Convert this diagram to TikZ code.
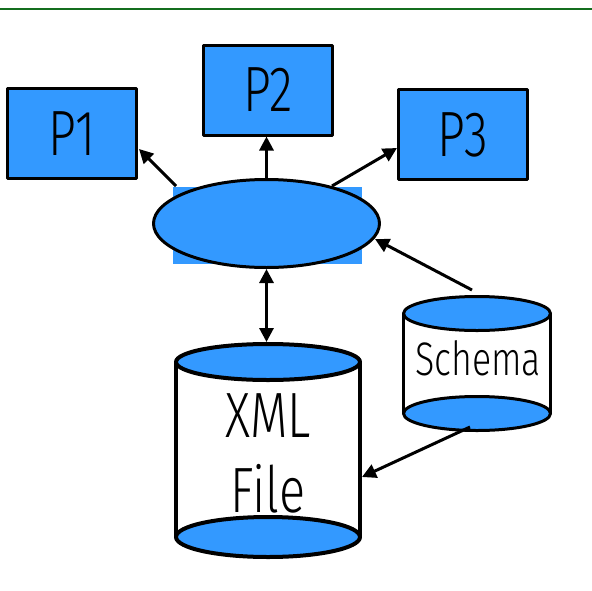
\documentclass[tikz,border=0pt]{standalone}
\usepackage{fontspec}
\setmainfont{Fira Sans Light}[FakeStretch=0.76]
\usetikzlibrary{arrows.meta,shapes.geometric}
\definecolor{boxblue}{RGB}{51,153,255}
\definecolor{rulegreen}{RGB}{20,110,30}
\begin{document}
\begin{tikzpicture}[x=1pt,y=-1pt,line join=round]
\tikzset{
  procbox/.style={draw=black,fill=boxblue,line width=3pt,minimum width=129pt,minimum height=90pt,inner sep=0pt,font=\fontsize{64}{64}\selectfont},
  hubshape/.style={ellipse,draw=black,fill=boxblue,line width=3pt,minimum width=226pt,minimum height=88pt,inner sep=0pt},
  link/.style={line width=3pt,-{Triangle[length=14pt,width=14pt]}},
  dlink/.style={line width=3pt,{Triangle[length=14pt,width=14pt]}-{Triangle[length=14pt,width=14pt]}},
  bigcyl/.style={line width=4pt,draw=black},
  smallcyl/.style={line width=3pt,draw=black},
  bigtext/.style={inner sep=0pt,font=\fontsize{64}{64}\selectfont},
  smalltext/.style={inner sep=0pt,font=\fontsize{47}{47}\selectfont}
}
\useasboundingbox (0,0) rectangle (592,590);
\draw[rulegreen,line width=2pt] (0,9) coordinate (ruleL) -- (592,9) coordinate (ruleR);

% process boxes
\node[procbox] (p1) at (72,133.5) {P1};
\node[procbox] (p2) at (268,90) {P2};
\node[procbox] (p3) at (463,134.5) {P3};

% hub with blue rectangle behind
\fill[boxblue] (173,187) rectangle (362,264);
\node[hubshape] (hub) at (266.5,223.5) {};

% XML file cylinder
\fill[white] (176,362) rectangle (360,537);
\draw[bigcyl] (176,362) -- (176,537);
\draw[bigcyl] (360,362) -- (360,537);
\draw[bigcyl,fill=boxblue] (268,537) ellipse [x radius=92,y radius=20];
\draw[bigcyl,fill=boxblue] (268,362) ellipse [x radius=92,y radius=18];
\coordinate (xmltop) at (267,342);
\coordinate (xmlright) at (362,477);
\node[bigtext,anchor=base] (xmlA) at (268,437) {XML};
\node[bigtext,anchor=base] (xmlB) at (268,512) {File};

% Schema cylinder
\fill[white] (403.5,313.5) rectangle (550.5,413.5);
\draw[smallcyl] (403.5,313.5) -- (403.5,413.5);
\draw[smallcyl] (550.5,313.5) -- (550.5,413.5);
\draw[smallcyl,fill=boxblue] (477,413.5) ellipse [x radius=73.5,y radius=17];
\draw[smallcyl,fill=boxblue] (477,313.5) ellipse [x radius=73.5,y radius=17];
\node[smalltext,anchor=base] (schema) at (478,375) {Schema};
\coordinate (schtop) at (472,290);
\coordinate (schbot) at (470,427);

% connectors
\coordinate (hubNW) at (176,186);
\coordinate (hubNE) at (332,186);
\coordinate (hubE) at (375,239);
\coordinate (p1tip) at (139,149);
\coordinate (p3tip) at (397,148);
\draw[link] (hubNW) -- (p1tip);
\draw[link] (hub.north) -- (hub.north |- p2.south);
\draw[link] (hubNE) -- (p3tip);
\draw[link] (schtop) -- (hubE);
\draw[dlink] (hub.south) -- (hub.south |- xmltop);
\draw[link] (schbot) -- (xmlright);
\end{tikzpicture}
\end{document}
